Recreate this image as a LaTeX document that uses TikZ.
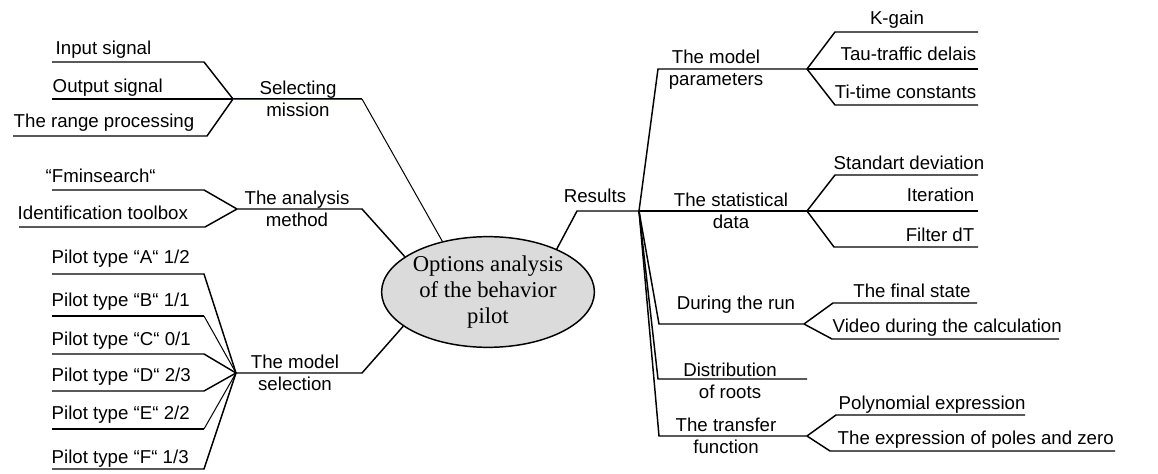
\documentclass[tikz,border=0pt]{standalone}
\usepackage{fontspec}
\setmainfont{Liberation Sans}
\newfontfamily\ovalfont{Liberation Serif}
\usepackage{tikz}
\usetikzlibrary{shapes.geometric}

\tikzset{
  lbl/.style={font=\fontsize{14}{16.5}\selectfont, inner sep=0pt},
  twoline/.style={lbl, align=center},
  fine/.style={line width=0.75pt},
  heavy/.style={line width=2.2pt},
  oval/.style={ellipse, draw, line width=1.1pt, fill=black!14,
    minimum width=135pt, minimum height=83pt, inner sep=0pt, align=center,
    font=\ovalfont\fontsize{17}{19.5}\selectfont}
}

\begin{document}
\begin{tikzpicture}[x=0.75pt,y=-0.75pt,line width=1.1pt,line join=miter]
    \useasboundingbox (0,0) rectangle (1158,474);

    % centre
    \node[oval] (core) at (488,292) {Options analysis\\of the behavior\\pilot};

    % selecting mission
    \coordinate (selJ) at (233,99); \coordinate (selE) at (362,99);
    \coordinate (inA) at (52,62);   \coordinate (inB) at (204,62);
    \coordinate (outA) at (52,99);
    \coordinate (rngA) at (13,136); \coordinate (rngB) at (207,136);
    \draw (inA) -- (inB) -- (selJ);
    \draw[heavy] (outA) -- (selJ);
    \draw (rngA) -- (rngB) -- (selJ);
    \draw[red, line width=1.4pt] (selJ) -- (selE);
    \draw[line width=0.7pt] ([yshift=0.6pt]selJ) -- ([yshift=0.6pt]selE);
    \draw[fine] (selE) -- (core.132);
    \node[lbl, anchor=base west] (tIn) at (55,55) {Input signal};
    \node[lbl, anchor=base west] (tOut) at (52,93) {Output signal};
    \node[lbl, anchor=base west] (tRng) at (13,128) {The range processing};
    \node[twoline] (tSel) at (298,99) {Selecting\\mission};

    % analysis method
    \coordinate (anJ) at (237,209); \coordinate (anE) at (362,209);
    \coordinate (fmA) at (52,190);  \coordinate (fmB) at (204,190);
    \coordinate (idA) at (19,227);  \coordinate (idB) at (205,227);
    \draw (fmA) -- (fmB) -- (anJ);
    \draw (idA) -- (idB) -- (anJ);
    \draw (anJ) -- (anE) -- (core.157);
    \node[lbl, anchor=base west] (tFm) at (45,183) {“Fminsearch“};
    \node[lbl, anchor=base west] (tId) at (17,220) {Identification toolbox};
    \node[twoline] (tAn) at (297,209) {The analysis\\method};

    % model selection
    \coordinate (msJ) at (236,373); \coordinate (msE) at (362,373);
    \coordinate (paA) at (52,274); \coordinate (paB) at (204,274);
    \coordinate (pbA) at (52,316); \coordinate (pbB) at (204,316);
    \coordinate (pcA) at (52,354); \coordinate (pcB) at (204,354);
    \coordinate (pdA) at (52,391); \coordinate (pdB) at (204,391);
    \coordinate (peA) at (52,429); \coordinate (peB) at (204,429);
    \coordinate (pfA) at (52,469); \coordinate (pfB) at (204,469);
    \draw (paA) -- (paB) -- (msJ);
    \draw (pbA) -- (pbB); \draw[fine] (pbB) -- (msJ);
    \draw (pcA) -- (pcB) -- (msJ);
    \draw (pdA) -- (pdB) -- (msJ);
    \draw (peA) -- (peB); \draw[fine] (peB) -- (msJ);
    \draw (pfA) -- (pfB) -- (msJ);
    \draw (msJ) -- (msE) -- (core.202);
    \node[lbl, anchor=base west] (tPa) at (51,264) {Pilot type “A“ 1/2};
    \node[lbl, anchor=base west] (tPb) at (51,306) {Pilot type “B“ 1/1};
    \node[lbl, anchor=base west] (tPc) at (51,345) {Pilot type “C“ 0/1};
    \node[lbl, anchor=base west] (tPd) at (51,382) {Pilot type “D“ 2/3};
    \node[lbl, anchor=base west] (tPe) at (51,419) {Pilot type “E“ 2/2};
    \node[lbl, anchor=base west] (tPf) at (51,463) {Pilot type “F“ 1/3};
    \node[twoline] (tMs) at (295,373) {The model\\selection};

    % results hub
    \coordinate (resK) at (577,211); \coordinate (hub) at (639,211);
    \draw (core.32) -- (resK) -- (hub);
    \node[lbl, anchor=base] (tRes) at (595,203) {Results};

    % model parameters
    \coordinate (mpK) at (658,69); \coordinate (mpJ) at (807,69);
    \coordinate (kgA) at (835,32); \coordinate (kgB) at (978,32);
    \coordinate (tauB) at (978,69);
    \coordinate (tiA) at (835,105); \coordinate (tiB) at (978,105);
    \draw (hub) -- (mpK) -- (mpJ);
    \draw (mpJ) -- (kgA) -- (kgB);
    \draw[heavy] (mpJ) -- (tauB);
    \draw (mpJ) -- (tiA) -- (tiB);
    \node[twoline] (tMp) at (716,70) {The model\\parameters};
    \node[lbl, anchor=base] (tKg) at (897,25) {K-gain};
    \node[lbl, anchor=base east] (tTau) at (977,61) {Tau-traffic delais};
    \node[lbl, anchor=base east] (tTi) at (977,99) {Ti-time constants};

    % statistical data
    \coordinate (sdJ) at (807,211);
    \coordinate (stA) at (835,175); \coordinate (stB) at (978,175);
    \coordinate (itB) at (978,211);
    \coordinate (fdA) at (834,247); \coordinate (fdB) at (978,247);
    \draw (hub) -- (sdJ);
    \draw (sdJ) -- (stA) -- (stB);
    \draw[heavy] (sdJ) -- (itB);
    \draw (sdJ) -- (fdA) -- (fdB);
    \node[twoline] (tSd) at (731,211) {The statistical\\data};
    \node[lbl, anchor=base west] (tSt) at (833,170) {Standart deviation};
    \node[lbl, anchor=base east] (tIt) at (975,202) {Iteration};
    \node[lbl, anchor=base east] (tFd) at (975,242) {Filter dT};

    % during the run
    \coordinate (rnK) at (659,324); \coordinate (rnJ) at (804,324);
    \coordinate (fsA) at (833,303); \coordinate (fsB) at (977,303);
    \coordinate (vdA) at (832,339); \coordinate (vdB) at (1059,339);
    \draw (hub) -- (rnK) -- (rnJ);
    \draw (rnJ) -- (fsA) -- (fsB);
    \draw (rnJ) -- (vdA) -- (vdB);
    \node[lbl, anchor=base] (tRn) at (736,310) {During the run};
    \node[lbl, anchor=base] (tFs) at (912,298) {The final state};
    \node[lbl, anchor=base west] (tVd) at (832,333) {Video during the calculation};

    % distribution of roots
    \coordinate (rtK) at (658,379); \coordinate (rtJ) at (807,379);
    \draw (hub) -- (rtK) -- (rtJ);
    \node[twoline] (tRt) at (730,381) {Distribution\\of roots};

    % transfer function
    \coordinate (tfK) at (659,436); \coordinate (tfJ) at (807,436);
    \coordinate (pxA) at (836,415); \coordinate (pxB) at (1025,415);
    \coordinate (psA) at (830,451); \coordinate (psB) at (1115,451);
    \draw (hub) -- (tfK) -- (tfJ);
    \draw (tfJ) -- (pxA) -- (pxB);
    \draw (tfJ) -- (psA) -- (psB);
    \node[twoline] (tTf) at (726,436) {The transfer\\function};
    \node[lbl, anchor=base west] (tPx) at (838,409) {Polynomial expression};
    \node[lbl, anchor=base west] (tPs) at (837,444) {The expression of poles and zero};
  \end{tikzpicture}
\end{document}
